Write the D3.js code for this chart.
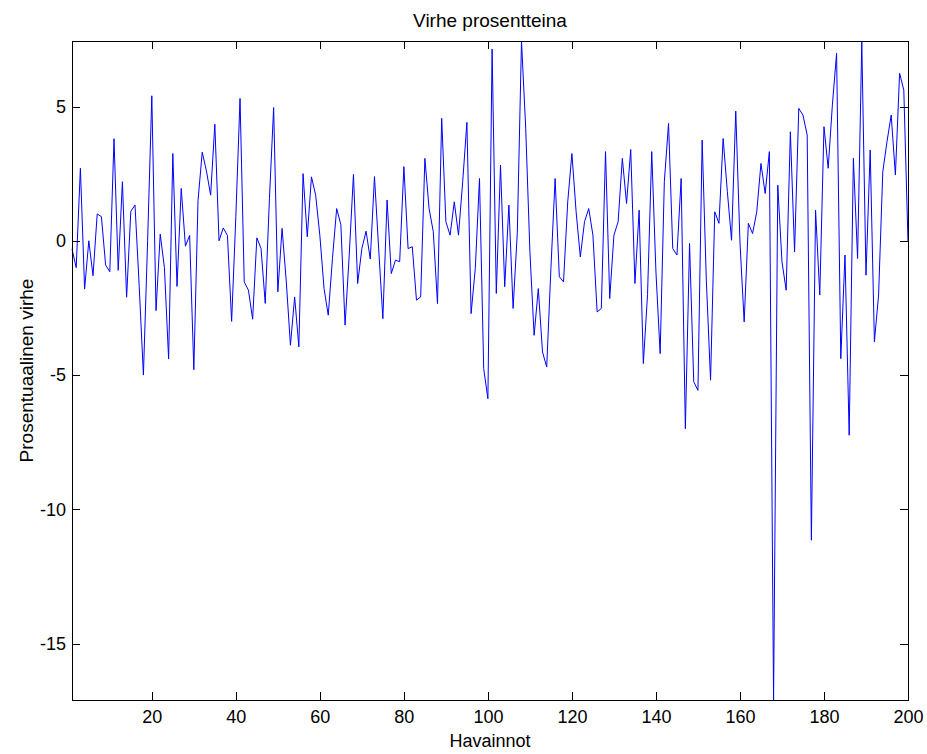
<!DOCTYPE html>
<html>
<head>
<meta charset="utf-8">
<script src="https://cdn.jsdelivr.net/npm/d3@7"></script>
<style>
  body { margin: 0; background: #fff; }
  svg { display: block; font-family: "Liberation Sans", Arial, Helvetica, sans-serif; }
  .axis text { font-size: 18px; fill: #000; }
  .axis line { stroke: #000; }
</style>
</head>
<body>
<svg width="927" height="754"></svg>
<script>
var errors = [
  -0.3, -1.0, 2.7, -1.8, 0.0, -1.3, 1.0, 0.9, -0.9, -1.15,
  3.8, -1.1, 2.2, -2.1, 1.1, 1.33, -1.7, -5.0, 0.0, 5.4,
  -2.6, 0.25, -1.0, -4.4, 3.25, -1.7, 1.95, -0.2, 0.2, -4.8,
  1.5, 3.3, 2.6, 1.7, 4.34, 0.0, 0.48, 0.2, -3.0, 0.9,
  5.3, -1.53, -1.84, -2.92, 0.11, -0.29, -2.33, 1.58, 4.96, -1.9,
  0.46, -1.5, -3.89, -2.09, -3.95, 2.5, 0.15, 2.38, 1.7, 0.2,
  -1.78, -2.77, -0.66, 1.2, 0.6, -3.14, -0.5, 2.47, -1.59, -0.29,
  0.36, -0.68, 2.39, -0.3, -2.9, 1.52, -1.22, -0.72, -0.78, 2.76,
  -0.29, -0.22, -2.21, -2.09, 3.07, 1.2, 0.34, -2.34, 4.56, 0.71,
  0.21, 1.45, 0.21, 2.2, 4.41, -2.71, -1.03, 2.32, -4.76, -5.88,
  7.14, -1.96, 2.82, -1.71, 1.33, -2.52, 0.3, 7.44, 4.19, -0.41,
  -3.52, -1.78, -4.14, -4.7, -1.03, 2.32, -1.34, -1.53, 1.45, 3.25,
  1.08, -0.6, 0.71, 1.2, 0.21, -2.65, -2.52, 3.32, -2.15, 0.21,
  0.71, 3.07, 1.39, 3.4, -1.59, 1.14, -4.57, -2.0, 3.32, -1.16,
  -4.2, 2.2, 4.37, -0.29, -0.53, 2.32, -7.0, -0.1, -5.25, -5.57,
  3.75, -1.5, -5.19, 1.08, 0.65, 3.81, 1.83, 0.02, 4.83, -0.04,
  -3.02, 0.65, 0.27, 1.08, 2.88, 1.76, 3.32, -17.1, 2.07, -0.78,
  -1.84, 4.06, -0.41, 4.93, 4.68, 3.94, -11.15, 1.14, -2.02, 4.25,
  2.7, 5.06, 6.98, -4.39, -0.53, -7.24, 3.07, -0.66, 7.4, -1.28,
  3.38, -3.76, -2.02, 2.57, 3.69, 4.68, 2.45, 6.24, 5.61, -0.04
];
var xTicks = [20, 40, 60, 80, 100, 120, 140, 160, 180, 200];
var yTicks = [-15, -10, -5, 0, 5];

var svg = d3.select("svg"),
  margin = { top: 41, right: 19, bottom: 54, left: 72 },
  width = +svg.attr("width") - margin.left - margin.right,
  height = +svg.attr("height") - margin.top - margin.bottom;

var data = errors.map(function (d, i) { return { n: i + 1, v: d }; });

var x = d3.scaleLinear().domain([1, errors.length]).range([0, width]);
var y = d3.scaleLinear().domain(d3.extent(errors)).range([height, 0]);

// plain hyphen for negatives, like the original
var plain = function (d) { return String(d); };

var g = svg.append("g")
  .attr("transform", "translate(" + margin.left + "," + margin.top + ")");

// data line first, axes drawn on top
g.append("path")
  .datum(data)
  .attr("fill", "none")
  .attr("stroke", "#0000ff")
  .attr("stroke-width", 1)
  .attr("d", d3.line()
    .x(function (d) { return x(d.n); })
    .y(function (d) { return y(d.v); }));

g.append("g")
  .attr("class", "axis")
  .attr("transform", "translate(0," + height + ")")
  .call(d3.axisBottom(x).tickValues(xTicks).tickSize(-8).tickPadding(10).tickFormat(plain));

g.append("g")
  .attr("class", "axis")
  .call(d3.axisTop(x).tickValues(xTicks).tickSize(-8).tickFormat(""));

g.append("g")
  .attr("class", "axis")
  .call(d3.axisLeft(y).tickValues(yTicks).tickSize(-8).tickPadding(6).tickFormat(plain));

g.append("g")
  .attr("class", "axis")
  .attr("transform", "translate(" + width + ",0)")
  .call(d3.axisRight(y).tickValues(yTicks).tickSize(-8).tickFormat(""));

g.selectAll(".axis .domain").remove();
g.selectAll(".axis line").attr("shape-rendering", "crispEdges");

g.append("rect")
  .attr("width", width)
  .attr("height", height)
  .attr("fill", "none")
  .attr("stroke", "#000")
  .attr("shape-rendering", "crispEdges");

svg.append("text")
  .attr("x", margin.left + width / 2)
  .attr("y", 27)
  .attr("text-anchor", "middle")
  .style("font-size", "19px")
  .text("Virhe prosentteina");

svg.append("text")
  .attr("x", margin.left + width / 2)
  .attr("y", 747)
  .attr("text-anchor", "middle")
  .style("font-size", "18px")
  .text("Havainnot");

svg.append("text")
  .attr("transform", "translate(33," + (margin.top + height / 2) + ") rotate(-90)")
  .attr("text-anchor", "middle")
  .style("font-size", "19px")
  .text("Prosentuaalinen virhe");
</script>
</body>
</html>
